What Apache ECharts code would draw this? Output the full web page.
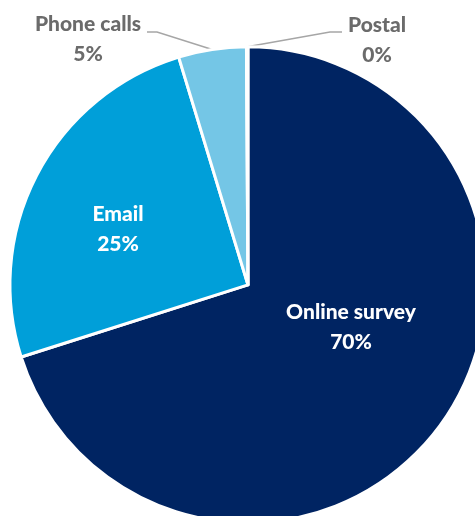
<!DOCTYPE html>
<html>
<head>
<meta charset="utf-8">
<script src="https://cdn.jsdelivr.net/npm/echarts@6/dist/echarts.min.js"></script>
<style>html,body{margin:0;padding:0;background:#fff;}#c{width:475px;height:516px;}</style>
</head>
<body>
<div id="c"></div>
<script>
var categories = ['Online survey', 'Email', 'Phone calls', 'Postal'];
var values = [70.1, 25.2, 4.6, 0.1];
var colors = ['#002462', '#009FD9', '#74C6E6', '#D9D9D9'];

// label placements (label centre) and leader-line knees
var labelSpots = [
  {x: 351, y: 327},
  {x: 118, y: 229},
  {x: 88, y: 39, knee: [157, 32], end: [147, 32]},
  {x: 377, y: 40, knee: [330, 32], end: [342, 32]}
];

var chart = echarts.init(document.getElementById('c'));
var data = categories.map(function (n, i) {
  var inside = i < 2;
  return {
    name: n,
    value: values[i],
    itemStyle: {color: colors[i]},
    label: {
      position: inside ? 'inside' : 'outside',
      color: inside ? '#FFFFFF' : '#6B6B6B'
    },
    labelLine: {show: !inside}
  };
});

chart.setOption({
  animation: false,
  series: [{
    type: 'pie',
    center: ['52.2%', '55.2%'],
    radius: [0, 238],
    startAngle: 90,
    clockwise: true,
    data: data,
    itemStyle: {borderColor: '#FFFFFF', borderWidth: 3},
    label: {
      fontFamily: 'Lato',
      fontWeight: 900,
      fontSize: 21,
      lineHeight: 30,
      overflow: 'none',
      width: 200,
      alignTo: 'none',
      bleedMargin: 0,
      formatter: function (p) { return p.name + '\n' + Math.round(p.percent) + '%'; }
    },
    labelLine: {lineStyle: {color: '#A6A6A6', width: 1.5}, length: 20, length2: 10},
    labelLayout: function (p) {
      var s = labelSpots[p.dataIndex];
      var out = {x: s.x, y: s.y, align: 'center', verticalAlign: 'middle'};
      if (s.knee && p.labelLinePoints) {
        out.labelLinePoints = [p.labelLinePoints[0], s.knee, s.end];
      }
      return out;
    }
  }]
});
</script>
</body>
</html>
